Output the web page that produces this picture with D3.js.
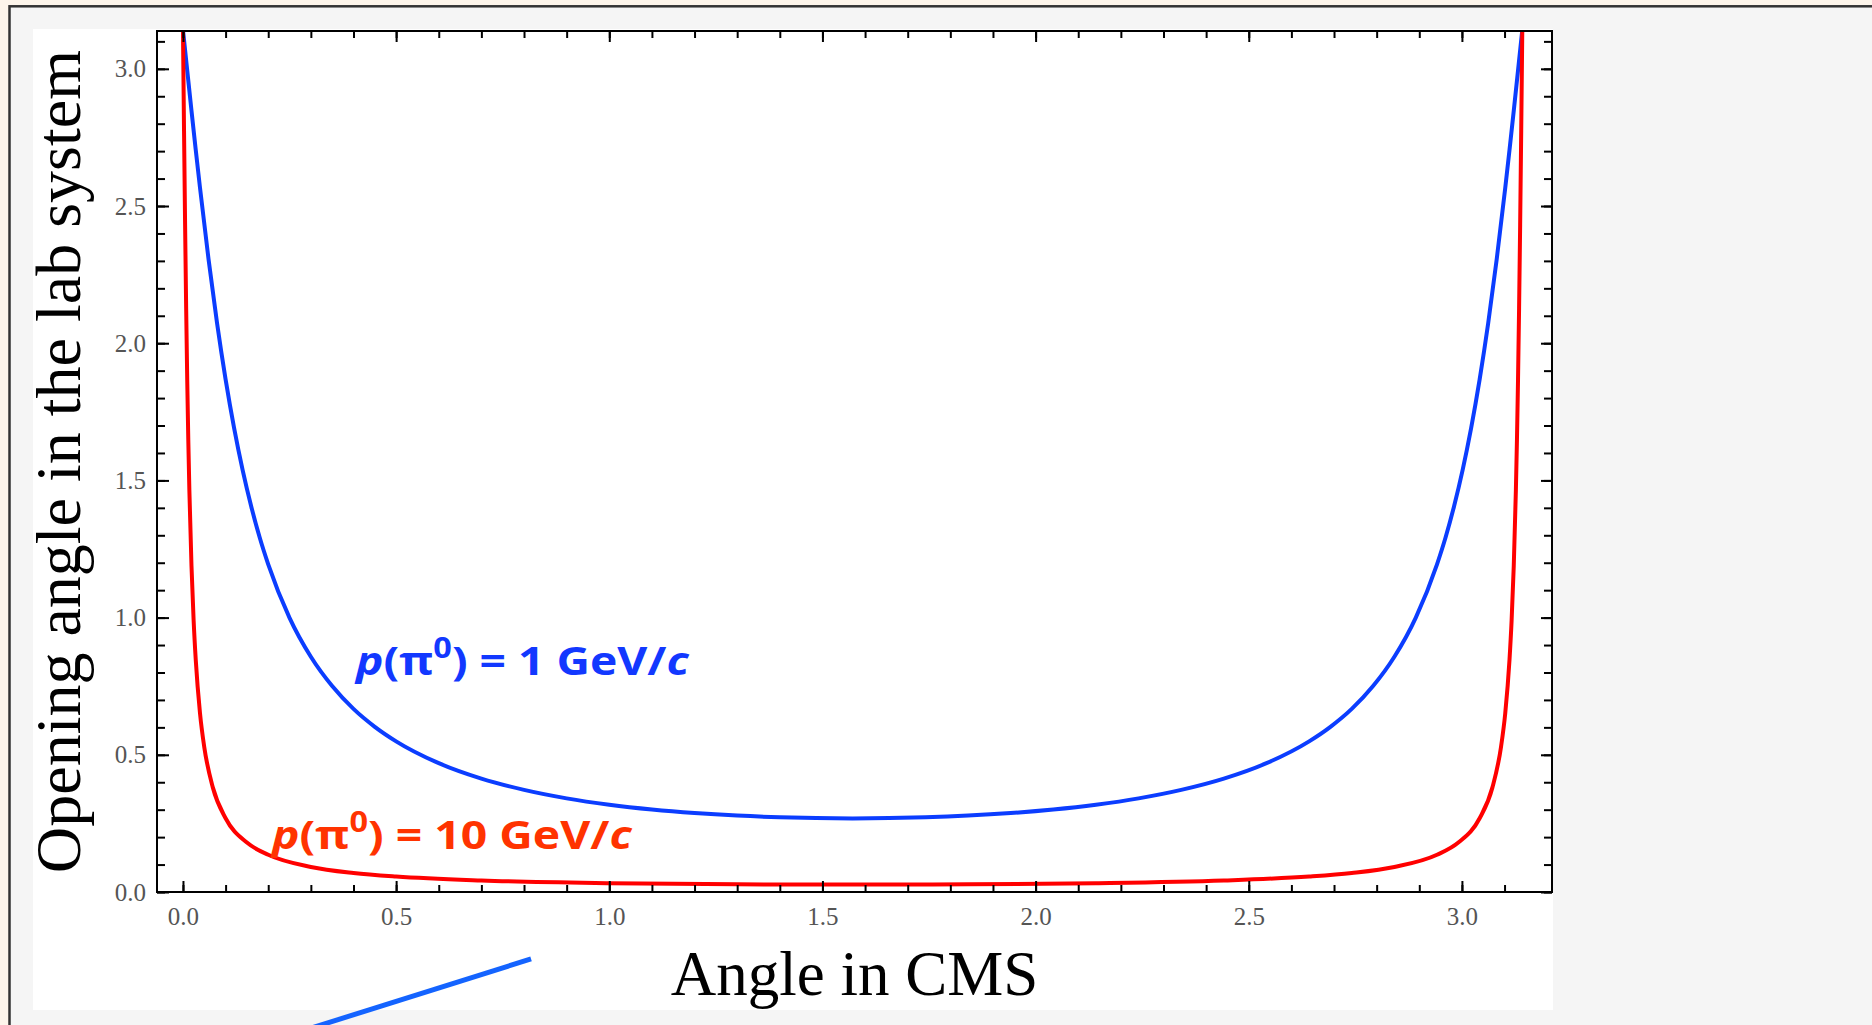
<!DOCTYPE html>
<html>
<head>
<meta charset="utf-8">
<script src="https://cdn.jsdelivr.net/npm/d3@7"></script>
<style>
  body { margin: 0; background: #fdf5eb; overflow: hidden; }
  svg { display: block; }
  .tick text { font-family: 'Liberation Serif', 'Times New Roman', serif; font-size: 25px; fill: #555; }
  .tick line { stroke: #000; stroke-width: 2; }
  .axis-title { font-family: 'Liberation Serif', 'Times New Roman', serif; fill: #000; }
  .curve-label { font-family: 'Open Sans', sans-serif; font-weight: 700; font-size: 40px; }
</style>
</head>
<body>
<div id="chart"></div>
<script>
// Angle in CMS (x) vs opening angle in the lab (y)
const blueX = [0, 0.01, 0.02, 0.03, 0.04, 0.06, 0.08, 0.10, 0.12, 0.13, 0.14, 0.16, 0.18, 0.20, 0.25, 0.30,
  0.35, 0.40, 0.45, 0.50, 0.60, 0.70, 0.80, 0.90, 1.00, 1.10, 1.20, 1.30, 1.40, 1.5708,
  1.7416, 1.8416, 1.9416, 2.0416, 2.1416, 2.2416, 2.3416, 2.4416, 2.5416, 2.6416, 2.6916, 2.7416,
  2.7916, 2.8416, 2.8916, 2.9416, 2.9616, 2.9816, 3.0016, 3.0116, 3.0216, 3.0416, 3.0616, 3.0816,
  3.1016, 3.1116, 3.1216, 3.1316, 3.1416];
const blueY = [3.1416, 2.9937, 2.8474, 2.7042, 2.566, 2.306, 2.0725, 1.8684, 1.6908, 1.6114, 1.5377, 1.406, 1.2918, 1.1941, 0.9991, 0.8572,
  0.7504, 0.6672, 0.6019, 0.5490, 0.4694, 0.4132, 0.3721, 0.3413, 0.3182, 0.3007, 0.2877, 0.2784, 0.2723, 0.2683,
  0.2723, 0.2784, 0.2877, 0.3007, 0.3182, 0.3413, 0.3721, 0.4132, 0.4694, 0.5490, 0.6019, 0.6672,
  0.7504, 0.8572, 0.9991, 1.1941, 1.2918, 1.406, 1.5377, 1.6114, 1.6908, 1.8684, 2.0725, 2.306,
  2.566, 2.7042, 2.8474, 2.9937, 3.1416];

const redX = [0, 0.0025, 0.005, 0.0075, 0.01, 0.0125, 0.015, 0.02, 0.025, 0.03, 0.04, 0.05, 0.07, 0.10,
  0.15, 0.20, 0.30, 0.40, 0.50, 0.70, 1.00, 1.30, 1.5708, 1.8416, 2.1416, 2.4416, 2.6416, 2.7416,
  2.8416, 2.9416, 2.9916, 3.0416, 3.0716, 3.0916, 3.1016, 3.1116, 3.1166, 3.1216, 3.1266, 3.1291,
  3.1316, 3.1341, 3.1366, 3.1391, 3.1416];
const redY = [3.1416, 2.7751, 2.4318, 2.1273, 1.8660, 1.6476, 1.4655, 1.1879, 0.9905, 0.8457, 0.6511, 0.5278, 0.3813, 0.2688,
  0.1801, 0.1357, 0.0913, 0.0693, 0.0563, 0.0419, 0.0321, 0.0280, 0.0270, 0.0280, 0.0321, 0.0419, 0.0563, 0.0693,
  0.0913, 0.1357, 0.1801, 0.2688, 0.3813, 0.5278, 0.6511, 0.8457, 0.9905, 1.1879, 1.4655, 1.6476,
  1.8660, 2.1273, 2.4318, 2.7751, 3.1416];

// Tick values
const majorTicks = [0, 0.5, 1.0, 1.5, 2.0, 2.5, 3.0];
const xMinorTicks = [0, 0.1, 0.2, 0.3, 0.4, 0.5, 0.6, 0.7, 0.8, 0.9, 1.0, 1.1, 1.2, 1.3, 1.4, 1.5, 1.6,
  1.7, 1.8, 1.9, 2.0, 2.1, 2.2, 2.3, 2.4, 2.5, 2.6, 2.7, 2.8, 2.9, 3.0, 3.1];
const yMinorTicks = xMinorTicks;

// Axis titles and curve labels
const xTitle = 'Angle in CMS';
const yTitle = 'Opening angle in the lab system';
const blueLabel = { mom: '1' };
const redLabel = { mom: '10' };

const width = 1872;
const height = 1025;

// Plot box
const plotLeft = 157, plotRight = 1552, plotTop = 31, plotBottom = 892;

const x = d3.scaleLinear().domain([-0.0609, 3.2113]).range([plotLeft, plotRight]);
const y = d3.scaleLinear().domain([0, 3.1378]).range([plotBottom, plotTop]);

const svg = d3.select('#chart').append('svg')
  .attr('width', width)
  .attr('height', height);

// Slide background: frame, grey panel, white picture
svg.append('rect')
  .attr('x', 9.5).attr('y', 6.3)
  .attr('width', width).attr('height', height)
  .attr('fill', '#f5f5f5')
  .attr('stroke', '#333')
  .attr('stroke-width', 2.5);
svg.append('rect')
  .attr('x', 33).attr('y', 29)
  .attr('width', 1520).attr('height', 981)
  .attr('fill', '#fff');

svg.append('defs').append('clipPath')
  .attr('id', 'plot-clip')
  .append('rect')
  .attr('x', plotLeft).attr('y', plotTop)
  .attr('width', plotRight - plotLeft).attr('height', plotBottom - plotTop);

// Curves
const line = d3.line()
  .x(d => x(d[0]))
  .y(d => y(d[1]))
  .curve(d3.curveMonotoneX);

const curves = svg.append('g').attr('clip-path', 'url(#plot-clip)');

curves.append('path')
  .datum(blueX.map((v, i) => [v, blueY[i]]))
  .attr('d', line)
  .attr('fill', 'none')
  .attr('stroke', '#0b3dff')
  .attr('stroke-width', 4);

curves.append('path')
  .datum(redX.map((v, i) => [v, redY[i]]))
  .attr('d', line)
  .attr('fill', 'none')
  .attr('stroke', '#ff0000')
  .attr('stroke-width', 4);

// Minor ticks on all four sides, pointing inward
svg.append('g')
  .attr('transform', `translate(0, ${plotBottom})`)
  .call(d3.axisBottom(x).tickValues(xMinorTicks).tickSize(-7).tickSizeOuter(0).tickFormat(''));
svg.append('g')
  .attr('transform', `translate(0, ${plotTop})`)
  .call(d3.axisTop(x).tickValues(xMinorTicks).tickSize(-7).tickSizeOuter(0).tickFormat(''));
svg.append('g')
  .attr('transform', `translate(${plotLeft}, 0)`)
  .call(d3.axisLeft(y).tickValues(yMinorTicks).tickSize(-8).tickSizeOuter(0).tickFormat(''));
svg.append('g')
  .attr('transform', `translate(${plotRight}, 0)`)
  .call(d3.axisRight(y).tickValues(yMinorTicks).tickSize(-8).tickSizeOuter(0).tickFormat(''));

// Major ticks with labels
svg.append('g')
  .attr('transform', `translate(0, ${plotBottom})`)
  .call(d3.axisBottom(x).tickValues(majorTicks).tickSize(-11).tickSizeOuter(0)
    .tickPadding(15).tickFormat(d3.format('.1f')));
svg.append('g')
  .attr('transform', `translate(0, ${plotTop})`)
  .call(d3.axisTop(x).tickValues(majorTicks).tickSize(-11).tickSizeOuter(0).tickFormat(''));
svg.append('g')
  .attr('transform', `translate(${plotLeft}, 0)`)
  .call(d3.axisLeft(y).tickValues(majorTicks).tickSize(-12).tickSizeOuter(0)
    .tickPadding(11).tickFormat(d3.format('.1f')));
svg.append('g')
  .attr('transform', `translate(${plotRight}, 0)`)
  .call(d3.axisRight(y).tickValues(majorTicks).tickSize(-11).tickSizeOuter(0).tickFormat(''));

svg.selectAll('.domain').remove();

// Frame
svg.append('rect')
  .attr('x', plotLeft).attr('y', plotTop)
  .attr('width', plotRight - plotLeft).attr('height', plotBottom - plotTop)
  .attr('fill', 'none')
  .attr('stroke', '#000')
  .attr('stroke-width', 2);

// Axis titles
svg.append('text')
  .attr('class', 'axis-title')
  .attr('x', (plotLeft + plotRight) / 2)
  .attr('y', 995)
  .attr('text-anchor', 'middle')
  .attr('font-size', 63)
  .text(xTitle);

svg.append('text')
  .attr('class', 'axis-title')
  .attr('transform', `translate(80, ${(plotTop + plotBottom) / 2}) rotate(-90)`)
  .attr('text-anchor', 'middle')
  .attr('font-size', 64)
  .text(yTitle);

// Curve labels: p(π0) = N GeV/c
function addLabel(lbl, color, px, py, targetWidth) {
  const g = svg.append('g');
  const t = g.append('text')
    .attr('class', 'curve-label')
    .attr('fill', color);
  t.append('tspan').attr('font-style', 'italic').text('p');
  t.append('tspan').text('(π');
  t.append('tspan').attr('font-size', 28).attr('dy', -17).text('0');
  t.append('tspan').attr('dy', 17).text(`) = ${lbl.mom} GeV/`);
  t.append('tspan').attr('font-style', 'italic').text('c');
  const w = t.node().getBBox().width;
  g.attr('transform', `translate(${px}, ${py}) scale(${targetWidth / w}, 1)`);
}

addLabel(blueLabel, '#1238ff', 356, 675, 336);
addLabel(redLabel, '#ff3300', 272, 849, 363);

// Pointer line from below the axis title
svg.append('line')
  .attr('x1', x(0.8165)).attr('y1', y(-0.244))
  .attr('x2', x(0.2515)).attr('y2', y(-0.52))
  .attr('stroke', '#1464ff')
  .attr('stroke-width', 5);
</script>
</body>
</html>
